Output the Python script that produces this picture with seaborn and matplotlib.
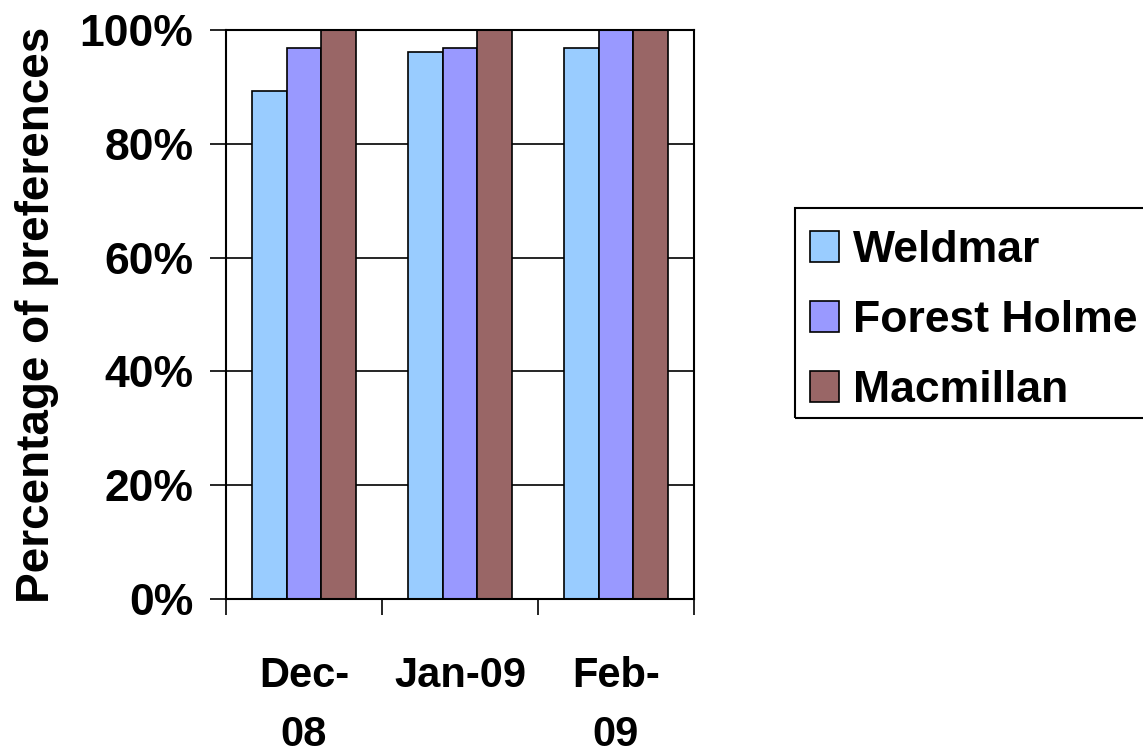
import matplotlib
matplotlib.use("Agg")
import matplotlib.pyplot as plt
import seaborn as sns
import pandas as pd
from matplotlib.patches import Rectangle
from matplotlib.ticker import FixedLocator, PercentFormatter

months = ["Dec-\n08", "Jan-09", "Feb-\n09"]
services = ["Weldmar", "Forest Holme", "Macmillan"]
weldmar = [89.3, 96.2, 96.9]
forest_holme = [96.9, 96.9, 100.0]
macmillan = [100.0, 100.0, 100.0]
colors = ["#99CCFF", "#9999FF", "#996666"]

rows = []
for name, vals in zip(services, [weldmar, forest_holme, macmillan]):
    for m, v in zip(months, vals):
        rows.append({"Month": m, "Service": name, "Percent": v})
df = pd.DataFrame(rows)

sns.set_theme(style="white")
plt.rcParams["font.family"] = ["Liberation Sans", "DejaVu Sans"]
plt.rcParams["font.weight"] = "bold"
plt.rcParams["text.color"] = "black"
plt.rcParams["axes.labelcolor"] = "black"
plt.rcParams["xtick.color"] = "black"
plt.rcParams["ytick.color"] = "black"

W, H = 1143, 756
fig = plt.figure(figsize=(W / 100, H / 100), dpi=100)
ax = fig.add_axes([226 / W, 1 - 599 / H, 468 / W, 569 / H])

sns.barplot(data=df, x="Month", y="Percent", hue="Service", order=months,
            hue_order=services, palette=dict(zip(services, colors)),
            width=0.664, gap=0, edgecolor="black", linewidth=1.2,
            saturation=1, ax=ax, legend=True)

ax.set_xlim(-0.5, 2.5)
ax.set_ylim(0, 100)
ax.set_yticks([0, 20, 40, 60, 80, 100])
ax.yaxis.set_major_formatter(PercentFormatter(decimals=0))
ax.yaxis.grid(True, color="black", linewidth=1.2)
ax.set_axisbelow(True)

for s in ax.spines.values():
    s.set_visible(True)
    s.set_color("black")
    s.set_linewidth(1.5)

ax.tick_params(axis="y", which="major", left=True, direction="out", length=11.5,
               width=1.2, color="black", labelcolor="black", labelsize=32, pad=12)
ax.tick_params(axis="x", which="major", bottom=True, length=0, labelsize=30,
               labelcolor="black", pad=41)
ax.xaxis.set_minor_locator(FixedLocator([-0.5, 0.5, 1.5, 2.5]))
ax.tick_params(axis="x", which="minor", bottom=True, direction="out", length=11.5,
               width=1.2, color="black")
for lab in ax.get_xticklabels():
    lab.set_fontweight("bold")
    lab.set_linespacing(1.62)
for lab in ax.get_yticklabels():
    lab.set_fontweight("bold")

ax.set_xlabel("")
ax.set_ylabel("Percentage of preferences", fontsize=33, fontweight="bold",
              va="center", color="black")
ax.yaxis.set_label_coords(-0.404, 0.5)

# Legend entries, with a plain rectangular frame drawn around them
handles, labels = ax.get_legend_handles_labels()
ax.get_legend().remove()
leg = fig.legend(handles, labels, loc="upper left",
                 bbox_to_anchor=(795 / W, 1 - 215 / H),
                 bbox_transform=fig.transFigure, borderaxespad=0,
                 prop={"size": 32, "weight": "bold"}, frameon=False,
                 handlelength=0.65, handleheight=0.7,
                 handletextpad=0.32, labelspacing=0.65, borderpad=0.34)
for t in leg.get_texts():
    t.set_color("black")
fig.add_artist(Rectangle((795 / W, 1 - 418 / H), 360 / W, 210 / H,
                         transform=fig.transFigure, fill=False,
                         edgecolor="black", linewidth=1.5))

fig.savefig("out.png", dpi=100)
